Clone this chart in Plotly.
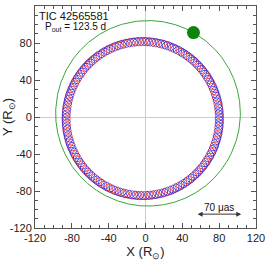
import numpy as np
import plotly.graph_objects as go

# ---- data ----
tick_vals = [-120, -80, -40, 0, 40, 80, 120]
tick_text = ["-120", "-80", "-40", "0", "40", "80", "120"]

outer_center = [2.7, 4.0]        # third star orbit centre (R_sun)
outer_radius = 100.3             # third star orbit radius (R_sun)
star_phase_deg = 60.5            # current position of third star on its orbit

inner_center = [-3.0, -1.7]      # inner binary photocentre orbit centre
inner_radius = 83.2              # inner binary orbit radius around CM
loop_radius = 4.4                # radius of each inner-binary loop
n_loops = 80                     # inner loops per outer period

scale_bar_x = [55, 104]
scale_bar_y = -105
scale_label = "70 μas"
title_text = "TIC 42565581"
period_text = "P<sub>out</sub> = 123.5 d"

# ---- curves ----
th = np.linspace(0, 2 * np.pi, n_loops * 30 + 1)
gx = outer_center[0] + outer_radius * np.cos(th)
gy = outer_center[1] + outer_radius * np.sin(th)

bx = inner_center[0] + inner_radius * np.cos(th)
by = inner_center[1] + inner_radius * np.sin(th)
rx = bx + loop_radius * np.cos(n_loops * th)
ry = by + loop_radius * np.sin(n_loops * th)
ux = bx - loop_radius * np.cos(n_loops * th)
uy = by - loop_radius * np.sin(n_loops * th)

ph = np.deg2rad(star_phase_deg)
sx = outer_center[0] + outer_radius * np.cos(ph)
sy = outer_center[1] + outer_radius * np.sin(ph)

fig = go.Figure()
fig.add_trace(go.Scatter(x=gx, y=gy, mode="lines",
                         line=dict(color="#3aa63a", width=1), hoverinfo="skip"))
fig.add_trace(go.Scatter(x=rx, y=ry, mode="lines",
                         line=dict(color="#e8202a", width=0.9), hoverinfo="skip"))
fig.add_trace(go.Scatter(x=ux, y=uy, mode="lines",
                         line=dict(color="#2a2ae0", width=0.9), hoverinfo="skip"))
fig.add_trace(go.Scatter(x=[sx], y=[sy], mode="markers",
                         marker=dict(color="#0a870a", size=13), hoverinfo="skip"))

axis_common = dict(
    range=[-120, 120], tickvals=tick_vals, ticktext=tick_text,
    ticks="inside", ticklen=5, tickwidth=1, tickcolor="#555555",
    minor=dict(ticks="inside", dtick=10, ticklen=3, tickcolor="#555555"),
    showline=True, linecolor="#555555", linewidth=1, mirror="allticks",
    showgrid=False, zeroline=True, zerolinecolor="#cccccc", zerolinewidth=1,
    automargin=False,
    tickfont=dict(family="Liberation Sans, Arial", size=11, color="#222222"),
)

fig.update_layout(
    width=266, height=261,
    margin=dict(l=35, r=10, t=6, b=33),
    paper_bgcolor="white", plot_bgcolor="white",
    showlegend=False,
    xaxis=dict(**axis_common,
               title=dict(text="X (R<sub>⊙</sub>)", standoff=2,
                          font=dict(family="Liberation Sans, Arial", size=13, color="#222222"))),
    yaxis=dict(**axis_common,
               title=dict(text="Y (R<sub>⊙</sub>)", standoff=4,
                          font=dict(family="Liberation Sans, Arial", size=13, color="#222222"))),
    annotations=[
        dict(text=title_text, xref="paper", yref="paper", x=0.01, y=0.955,
             xanchor="left", yanchor="middle", showarrow=False,
             font=dict(family="Liberation Sans, Arial", size=11, color="#111111")),
        dict(text=period_text, xref="paper", yref="paper", x=0.036, y=0.905,
             xanchor="left", yanchor="middle", showarrow=False,
             font=dict(family="Liberation Sans, Arial", size=10, color="#111111")),
        dict(x=scale_bar_x[1], y=scale_bar_y, ax=scale_bar_x[0], ay=scale_bar_y,
             xref="x", yref="y", axref="x", ayref="y", text="", showarrow=True,
             arrowhead=2, arrowside="end+start", arrowsize=1, arrowwidth=1,
             arrowcolor="#333333"),
        dict(text=scale_label, x=(scale_bar_x[0] + scale_bar_x[1]) / 2, y=scale_bar_y,
             xref="x", yref="y", yshift=7, showarrow=False,
             font=dict(family="Liberation Sans, Arial", size=10, color="#111111")),
    ],
)

fig.write_html("out.html", config={"displayModeBar": False},
               post_script="document.body.style.margin='0';document.body.style.overflow='hidden';")
